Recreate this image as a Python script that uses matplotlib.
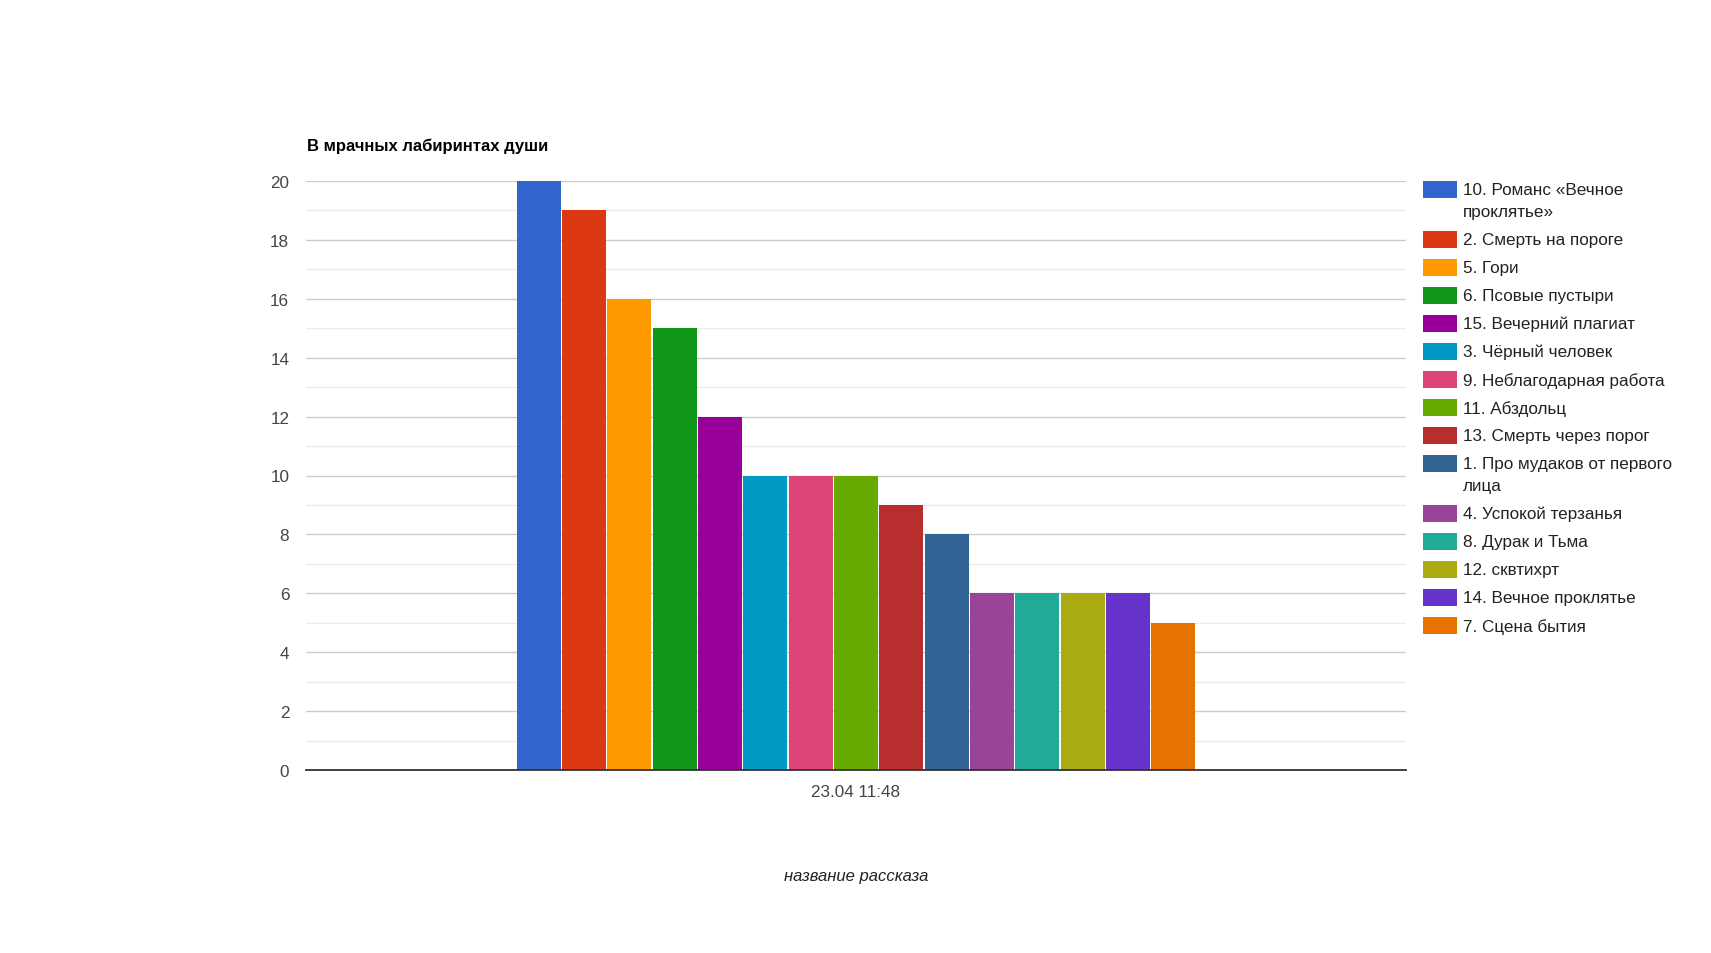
import numpy as np
import matplotlib
matplotlib.use("Agg")
import matplotlib.pyplot as plt
from matplotlib.patches import Rectangle

plt.rcParams['font.family'] = ['Liberation Sans', 'DejaVu Sans']

category = "23.04 11:48"
labels = [
    "10. Романс «Вечное\nпроклятье»",
    "2. Смерть на пороге",
    "5. Гори",
    "6. Псовые пустыри",
    "15. Вечерний плагиат",
    "3. Чёрный человек",
    "9. Неблагодарная работа",
    "11. Абздольц",
    "13. Смерть через порог",
    "1. Про мудаков от первого\nлица",
    "4. Успокой терзанья",
    "8. Дурак и Тьма",
    "12. сквтихрт",
    "14. Вечное проклятье",
    "7. Сцена бытия",
]
values = [20, 19, 16, 15, 12, 10, 10, 10, 9, 8, 6, 6, 6, 6, 5]
colors = ["#3366cc", "#dc3912", "#ff9900", "#109618", "#990099",
          "#0099c6", "#dd4477", "#66aa00", "#b82e2e", "#316395",
          "#994499", "#22aa99", "#aaaa11", "#6633cc", "#e67300"]

W, H = 1711, 954
fig = plt.figure(figsize=(W / 100, H / 100), dpi=100)
ax = fig.add_axes([306 / W, 1 - 771 / H, 1100 / W, 589 / H])

n = len(values)
step = 0.618 / n
xs = (np.arange(n) - (n - 1) / 2) * step
ax.bar(xs, values, width=step * 0.975, color=colors, zorder=3)

ax.set_xlim(-0.5, 0.5)
ax.set_ylim(0, 20)
ax.set_yticks(np.arange(0, 21, 2))
ax.set_yticks(np.arange(1, 20, 2), minor=True)
ax.grid(axis='y', which='major', color='#cccccc', linewidth=1, zorder=0)
ax.grid(axis='y', which='minor', color='#ebebeb', linewidth=1, zorder=0)
ax.set_xticks([0])
ax.set_xticklabels([category])
for s in ['top', 'right', 'left']:
    ax.spines[s].set_visible(False)
ax.spines['bottom'].set_color('#333333')
ax.spines['bottom'].set_linewidth(1.3)
ax.spines['bottom'].set_zorder(4)
ax.tick_params(axis='both', which='both', length=0, labelsize=12.3, labelcolor='#444444')
ax.tick_params(axis='y', pad=12)
ax.tick_params(axis='x', pad=10)

ax.set_xlabel("название рассказа", fontsize=12, fontstyle='italic',
              color='#222222', labelpad=50)

fig.text(307 / W, 1 - 146 / H, "В мрачных лабиринтах души", fontsize=12,
         fontweight='bold', color='#000000', va='center', ha='left')

# legend
y = 190.7
for lab, col in zip(labels, colors):
    fig.patches.append(Rectangle((1423 / W, 1 - (y + 8.5) / H), 34 / W, 17 / H,
                                 transform=fig.transFigure, facecolor=col,
                                 edgecolor='none'))
    lines = lab.split("\n")
    for k, line in enumerate(lines):
        fig.text(1463 / W, 1 - (y + 22 * k) / H, line, fontsize=12.3,
                 color='#222222', va='center', ha='left')
    y += 28 + 22 * (len(lines) - 1)

fig.savefig("out.png", dpi=100, facecolor='white')
